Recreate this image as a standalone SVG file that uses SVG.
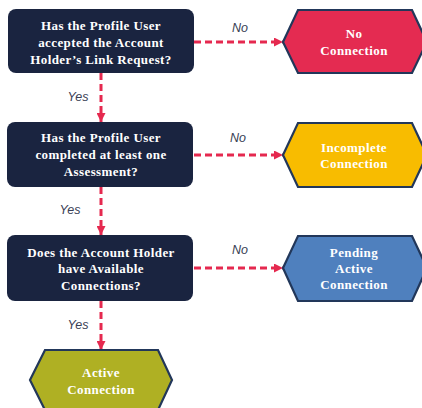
<svg xmlns="http://www.w3.org/2000/svg" width="422" height="408" viewBox="0 0 422 408">
<defs>
<style>
.box{fill:#1a2440;}
.hex{stroke:#22375a;stroke-width:2.2;stroke-linejoin:miter;}
.t{font-family:"Liberation Serif","Times New Roman",serif;font-weight:bold;font-size:13px;fill:#ffffff;text-anchor:middle;letter-spacing:0.4px;}
.lbl{font-family:"Liberation Sans",Arial,sans-serif;font-style:italic;font-size:12.5px;fill:#3a3f55;text-anchor:middle;}
.c{stroke:#e5294f;stroke-width:3;stroke-dasharray:7 4;fill:none;}
</style>
<marker id="ah" viewBox="0 0 10 10" refX="10" refY="5" markerWidth="3" markerHeight="3" orient="auto" markerUnits="strokeWidth">
<path d="M0,0 L10,5 L0,10 z" fill="#e5294f"/>
</marker>
</defs>
<rect width="422" height="408" fill="#ffffff"/>
<g id="connectors">
<line class="c" x1="101" y1="73" x2="101" y2="122" marker-end="url(#ah)"/>
<line class="c" x1="101" y1="187" x2="101" y2="235" marker-end="url(#ah)"/>
<line class="c" x1="101" y1="301" x2="101" y2="350" marker-end="url(#ah)"/>
<line class="c" x1="194" y1="42" x2="283" y2="42" marker-end="url(#ah)"/>
<line class="c" x1="194" y1="155" x2="283" y2="155" marker-end="url(#ah)"/>
<line class="c" x1="194" y1="268" x2="283" y2="268" marker-end="url(#ah)"/>
<text class="lbl" x="78" y="101">Yes</text>
<text class="lbl" x="70" y="214">Yes</text>
<text class="lbl" x="78" y="329">Yes</text>
<text class="lbl" x="240" y="32">No</text>
<text class="lbl" x="238" y="142">No</text>
<text class="lbl" x="240" y="254">No</text>
</g>
<g id="q1">
<rect class="box" x="8" y="9" width="186" height="64" rx="8"/>
<text class="t" x="101" y="30">Has the Profile User</text>
<text class="t" x="101" y="47">accepted the Account</text>
<text class="t" x="101" y="64">Holder’s Link Request?</text>
</g>
<g id="q2">
<rect class="box" x="7" y="122" width="186" height="65" rx="8"/>
<text class="t" x="101" y="142">Has the Profile User</text>
<text class="t" x="101" y="159">completed at least one</text>
<text class="t" x="101" y="176">Assessment?</text>
</g>
<g id="q3">
<rect class="box" x="7" y="235" width="186" height="66" rx="8"/>
<text class="t" x="101" y="257">Does the Account Holder</text>
<text class="t" x="101" y="273">have Available</text>
<text class="t" x="101" y="290">Connections?</text>
</g>
<g id="no-connection">
<polygon class="hex" fill="#e42b51" points="283,42 298,10 412,10 427,42 412,73 298,73"/>
<text class="t" x="354" y="38">No</text>
<text class="t" x="354" y="55">Connection</text>
</g>
<g id="incomplete-connection">
<polygon class="hex" fill="#f8bc00" points="283,155 298,123 412,123 427,155 412,187 298,187"/>
<text class="t" x="354" y="152">Incomplete</text>
<text class="t" x="354" y="168">Connection</text>
</g>
<g id="pending-active-connection">
<polygon class="hex" fill="#4f80be" points="283,268 298,236 412,236 427,268 412,301 298,301"/>
<text class="t" x="354" y="257">Pending</text>
<text class="t" x="354" y="273">Active</text>
<text class="t" x="354" y="289">Connection</text>
</g>
<g id="active-connection">
<polygon class="hex" fill="#afb023" points="30,380 45,350 158,350 172,380 158,410 45,410"/>
<text class="t" x="101" y="377">Active</text>
<text class="t" x="101" y="394">Connection</text>
</g>
</svg>
